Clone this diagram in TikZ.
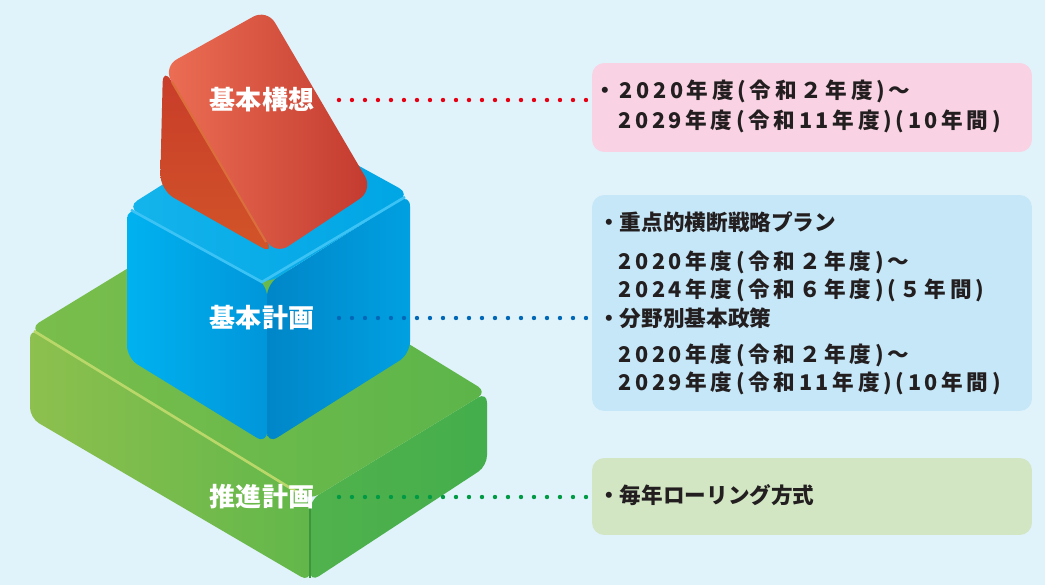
\documentclass[tikz,border=0pt]{standalone}
\usepackage{fontspec}
\newfontfamily\jpfont{Noto Sans CJK JP}
\newfontfamily\jpwide{Noto Sans CJK JP}[LetterSpace=17]
\definecolor{skybg}{HTML}{E0F2FA}
\definecolor{pinkbox}{HTML}{F9D3E3}
\definecolor{bluebox}{HTML}{C6E7F8}
\definecolor{greenbox}{HTML}{D2E6C3}
\definecolor{inktext}{HTML}{231F20}
\definecolor{dotred}{HTML}{E60012}
\definecolor{dotblue}{HTML}{0068B7}
\definecolor{dotgreen}{HTML}{009944}
% block faces
\definecolor{slabA}{HTML}{8DC04E}
\definecolor{slabB}{HTML}{62B74A}
\definecolor{slabC}{HTML}{50B24C}
\definecolor{slabD}{HTML}{44AE4C}
\definecolor{slabE}{HTML}{7ABE4C}
\definecolor{slabF}{HTML}{5CB54A}
\definecolor{slabrim}{HTML}{BAD86A}
\definecolor{slabseam}{HTML}{3C963C}
\definecolor{cubeA}{HTML}{00B2F0}
\definecolor{cubeB}{HTML}{0096DA}
\definecolor{cubeC}{HTML}{0086C8}
\definecolor{cubeD}{HTML}{00A0E1}
\definecolor{cubeE}{HTML}{14B4EC}
\definecolor{cubeF}{HTML}{00A5E4}
\definecolor{cuberim}{HTML}{3CC3F5}
\definecolor{roofA}{HTML}{C83C2A}
\definecolor{roofB}{HTML}{D25428}
\definecolor{roofC}{HTML}{EC6E54}
\definecolor{roofD}{HTML}{C23A2E}
\definecolor{roofrim}{HTML}{DC6E3C}

\begin{document}
\begin{tikzpicture}[x=0.02cm,y=-0.02cm,
	blocklabel/.style={text=white,font=\jpfont\bfseries\fontsize{14.8pt}{16pt}\selectfont,inner sep=0pt},
	termbox/.style={rounded corners=7pt,minimum width=8.8cm,inner sep=0pt},
	termline/.style={anchor=west,text=inktext,inner sep=0pt,font=\jpfont\bfseries\fontsize{12.3pt}{14pt}\selectfont},
	dateline/.style={termline,font=\jpwide\bfseries\fontsize{12.3pt}{14pt}\selectfont},
	leader/.style={line width=2.5pt,line cap=round,dash pattern=on 0pt off 7.4pt,shorten <=14pt,shorten >=2pt}]
	\useasboundingbox (0,0) rectangle (1045,585);
	\fill[skybg] (0,0) rectangle (1045,585);

	% green slab
	\shade[rounded corners=6pt,left color=slabA,right color=slabB] (30,328) -- (310,500) -- (310,582) -- (30,418) -- cycle;
	\shade[rounded corners=6pt,left color=slabC,right color=slabD] (310,500) -- (487,392) -- (487,466) -- (310,582) -- cycle;
	\shade[rounded corners=6pt,left color=slabE,right color=slabF] (30,328) -- (207,220) -- (487,392) -- (310,500) -- cycle;
	\draw[line width=1.5pt,slabrim] (34,331) -- (300,494);
	\draw[line width=1pt,slabseam] (310,504) -- (310,578);

	% blue cube
	\shade[rounded corners=7pt,left color=cubeA,right color=cubeB] (127,207) -- (267,284) -- (267,444) -- (127,358) -- cycle;
	\shade[rounded corners=7pt,left color=cubeC,right color=cubeD] (267,284) -- (410,194) -- (410,354) -- (267,444) -- cycle;
	\shade[rounded corners=7pt,left color=cubeE,right color=cubeF] (127,207) -- (270,117) -- (410,194) -- (267,284) -- cycle;
	\draw[line width=1.5pt,cuberim] (131,210) -- (262,282) -- (405,197);

	% red prism
	\shade[rounded corners=9pt,top color=roofA,bottom color=roofB] (163,67) -- (160,190) -- (275,255) -- cycle;
	\shade[rounded corners=9pt,left color=roofC,right color=roofD] (163,67) -- (267,9) -- (373,190) -- (275,255) -- cycle;
	\draw[line width=1.2pt,roofrim] (172,82) -- (266,242);

	% labels on the blocks
	\node[blocklabel] (concept) at (262,100) {基本構想};
	\node[blocklabel] (basic) at (262,318) {基本計画};
	\node[blocklabel] (promo) at (262,497) {推進計画};

	% boxes
	\node[termbox,fill=pinkbox,minimum height=1.78cm] (conceptbox) at (812,107.5) {};
	\node[termbox,fill=bluebox,minimum height=4.32cm] (basicbox) at (812,303) {};
	\node[termbox,fill=greenbox,minimum height=1.54cm] (promobox) at (812,496.5) {};

	\draw[leader,dotred] (concept.east) -- (concept.east -| conceptbox.west);
	\draw[leader,dotblue] (basic.east) -- (basic.east -| basicbox.west);
	\draw[leader,dotgreen] (promo.east) -- (promo.east -| promobox.west);

	% box texts
	\node[dateline] (c1) at (594,91) {・2020年度(令和２年度)～};
	\node[dateline] (c2) at (618,121) {2029年度(令和11年度)(10年間)};
	\node[termline] (b1) at (598,222) {・重点的横断戦略プラン};
	\node[dateline] (b2) at (618,262) {2020年度(令和２年度)～};
	\node[dateline] (b3) at (618,290) {2024年度(令和６年度)(５年間)};
	\node[termline] (b4) at (598,318) {・分野別基本政策};
	\node[dateline] (b5) at (618,355) {2020年度(令和２年度)～};
	\node[dateline] (b6) at (618,383) {2029年度(令和11年度)(10年間)};
	\node[termline] (p1) at (598,495) {・毎年ローリング方式};
\end{tikzpicture}
\end{document}
